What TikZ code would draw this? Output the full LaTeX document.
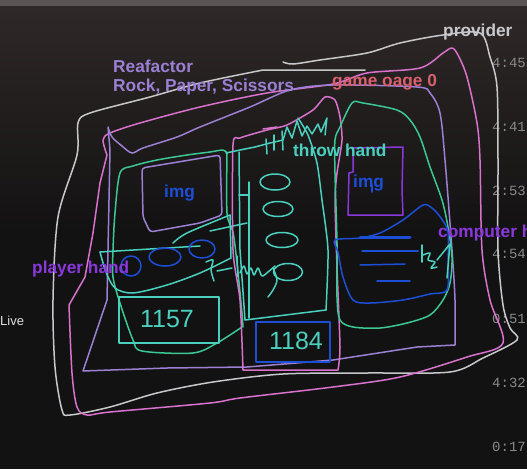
\documentclass[tikz,border=0pt]{standalone}
\usepackage{fontspec}
\newfontfamily\lblfont{Liberation Sans}
\newfontfamily\plainfont{Liberation Sans}
\newfontfamily\stampfont{Liberation Mono}
\definecolor{cStrip}{HTML}{5A5656}
\definecolor{cBgTop}{HTML}{2F2828}
\definecolor{cBgBot}{HTML}{131212}
\definecolor{cGray}{HTML}{C8C8CC}
\definecolor{cPink}{HTML}{D872CC}
\definecolor{cLav}{HTML}{9B80D4}
\definecolor{cGreen}{HTML}{3CC894}
\definecolor{cTeal}{HTML}{4AD0BE}
\definecolor{cBlue}{HTML}{1C4FD6}
\definecolor{cViolet}{HTML}{8A38DC}
\definecolor{cRed}{HTML}{D8606E}
\definecolor{cStamp}{HTML}{8A8A8A}
\tikzset{
  ink/.style={line width=1.5pt, line cap=round, line join=round},
  grayline/.style={ink, draw=cGray},
  pinkline/.style={ink, draw=cPink},
  lavline/.style={ink, draw=cLav},
  greenline/.style={ink, draw=cGreen},
  tealline/.style={ink, draw=cTeal},
  blueline/.style={ink, draw=cBlue},
  violetline/.style={ink, draw=cViolet},
  lbl/.style={font=\lblfont\bfseries\fontsize{17.3}{20}\selectfont, inner sep=0pt, anchor=base west},
  stamp/.style={font=\stampfont\fontsize{14}{16}\selectfont, text=cStamp, inner sep=0pt, anchor=base west},
  handnum/.style={font=\plainfont\fontsize{25}{28}\selectfont, text=cTeal, inner sep=0pt}
}
\begin{document}
\begin{tikzpicture}[x=1pt,y=-1pt]
\useasboundingbox (0,0) rectangle (527,469);
\clip (0,0) rectangle (527,469);
% background
\fill[cBgBot] (0,0) rectangle (527,469);
\shade[top color=cBgTop, bottom color=cBgBot] (0,6) rectangle (527,230);
\fill[cStrip] (0,0) rectangle (527,6);

% timestamps and side text
\node[stamp] (t1) at (492,67) {4:45};
\node[stamp] (t2) at (492,131) {4:41};
\node[stamp] (t3) at (492,195) {2:53};
\node[stamp] (t4) at (492,258) {4:54};
\node[stamp] (t5) at (492,323) {0:51};
\node[stamp] (t6) at (492,387) {4:32};
\node[stamp] (t7) at (492,451) {0:17};
\node[font=\plainfont\fontsize{13}{15}\selectfont, text=white!88!black, inner sep=0pt, anchor=base west] (live) at (0,325) {Live};

% provider outline (gray)
\draw[grayline] plot[smooth,tension=0.5] coordinates {(283,62) (293,64) (320,60) (367,53) (400,43) (443,35) (480,33) (490,57) (497,87) (498,160) (498,250) (503,305) (510,328) (517,340) (483,358) (450,372) (367,373) (283,374) (213,382) (157,393) (110,407) (70,415) (62,410) (55,367) (53,300) (58,217) (77,155) (78,123) (90,113) (150,97) (200,83) (263,70)} -- (365,70);

% game page outline (pink)
\draw[pinkline] plot[smooth,tension=0.5] coordinates {(107,155) (103,140) (110,133) (140,123) (200,107) (267,93) (333,84) (367,73) (420,68) (443,53) (452,48) (458,55) (467,77) (477,123) (480,160) (482,250) (490,300) (503,343) (467,357) (400,377) (333,387) (240,398) (210,403) (110,412) (87,415) (77,407) (72,373) (69,305)} -- (85,277) -- (93,233) -- (100,183) -- (107,155);

% refactor outline (lavender)
\draw[lavline] plot[smooth,tension=0.5] coordinates {(108,127) (112,137) (122,146) (132,153) (143,148) (177,137) (200,127) (250,107) (290,90) (333,85) (417,87) (430,93) (440,113) (445,160) (452,250) (455,300) (455,345)} -- (417,347) -- (333,360) -- (247,367) -- (167,368) -- (83,371) -- (107,300) -- (110,150) -- (108,127);
\draw[lavline, rounded corners=3pt] (142,168) -- (220,155) -- (222,215) -- (200,223) -- (150,232) -- (143,217) -- cycle;

% player area (green)
\draw[greenline] plot[smooth,tension=0.5] coordinates {(227,153) (223,150) (210,152) (187,155) (157,160) (133,166) (120,173) (115,213) (113,250) (113,277) (120,303) (133,340) (142,351) (193,353) (217,343) (242,327)};
\draw[greenline] plot[smooth,tension=0.5] coordinates {(227,153) (227,213) (233,232) (237,263) (242,313) (243,327)};

% player hand card (teal)
\draw[tealline] (100,252) -- (200,246);
\draw[tealline] plot[smooth,tension=0.5] coordinates {(173,243) (187,233) (230,215)};
\draw[tealline] (230,215) -- (231,258);
\draw[tealline] plot[smooth,tension=0.5] coordinates {(231,258) (200,273) (167,285) (133,293) (115,288) (106,272) (100,252)};
\draw[tealline] (210,231) -- (247,223);
\draw[blueline] (131,266) ellipse [x radius=10pt, y radius=10pt];
\draw[blueline] (165,257) ellipse [x radius=16pt, y radius=9pt];
\draw[blueline] (202,249) ellipse [x radius=13pt, y radius=9pt];
\draw[tealline] (119,297) rectangle (219,343);
\node[handnum] (n1) at (167,319) {1157};

% throw hand box (pink + teal)
\draw[pinkline] plot[smooth,tension=0.4] coordinates {(243,370) (240,300) (233,250) (233,145) (240,138) (267,130) (287,125) (313,110) (325,97) (335,100) (340,117) (342,140) (337,173) (335,200) (337,267) (340,347) (338,370)} -- cycle;
\draw[pinkline] (263,129) -- (277,127);
\draw[tealline] plot[smooth,tension=0.4] coordinates {(298,118) (308,135) (317,163) (322,200) (328,250) (326,310)} -- (245,320) -- (240,250) -- (239,152);
\draw[tealline] (249,182) -- (249,318);
\draw[tealline] (239,195) -- (249,195);
\draw[tealline] (226,153) -- (240,150) -- (255,147) -- (270,143) -- (283,140) -- (287,127) -- (292,138) -- (297,121) -- (302,136) -- (307,126) -- (312,134) -- (318,124) -- (321,132) -- (327,118) -- (325,135);
\draw[tealline] (266,139) -- (267,154);
\draw[tealline] (274,135) -- (274,150);
\draw[tealline] (282,131) -- (283,150);
\draw[tealline] (275,182) ellipse [x radius=15pt, y radius=8pt];
\draw[tealline] (278,209) ellipse [x radius=15pt, y radius=7.5pt];
\draw[tealline] (282,240) ellipse [x radius=16pt, y radius=7.5pt];
\draw[tealline] (288,272) ellipse [x radius=14.5pt, y radius=8.5pt];
% drag scribble
\draw[tealline] plot[smooth,tension=0.5] coordinates {(206,262) (213,260) (211,270) (214,281)};
\draw[tealline] (217,271) -- (232,268);
\draw[tealline] (237,256) -- (238,277);
\draw[tealline] plot[smooth,tension=0.5] coordinates {(240,273) (244,266) (247,274) (251,268) (254,275) (258,268) (262,276) (268,272) (275,266)};
\draw[tealline] plot[smooth,tension=0.5] coordinates {(273,268) (277,280) (273,290) (268,297)};
\draw[blueline] (256,322) rectangle (330,362);
\node[handnum] (n2) at (296,341) {1184};

% computer area (green)
\draw[greenline] plot[smooth cycle,tension=0.5] coordinates {(352,103) (363,103) (397,110) (410,120) (420,137) (430,167) (442,200) (448,227) (452,257) (450,283) (443,300) (430,315) (407,323) (380,328) (353,327) (340,320) (337,297) (337,243) (335,173) (335,140) (340,127)};
\draw[violetline] (353,148) -- (403,147) -- (402,190) -- (403,215) -- (348,215) -- (349,173) -- (353,172) -- cycle;
\draw[blueline] plot[smooth cycle,tension=0.5] coordinates {(335,240) (360,238) (380,233) (403,220) (423,205) (432,208) (441,218) (448,232) (448,262) (447,290) (430,294) (403,300) (370,303) (353,300) (343,277) (338,252)};
\draw[blueline, line width=3pt] (360,237) -- (410,237);
\draw[blueline] (362,251) -- (418,251);
\draw[blueline] (360,265) -- (405,264);
\draw[blueline] (377,281) -- (410,281);
\draw[blueline] (372,185) -- (372,192);
\draw[tealline] (422,245) -- (422,262);
\draw[tealline] plot[smooth,tension=0.5] coordinates {(423,255) (430,253) (428,260) (435,262) (431,268) (437,267)};
\draw[tealline] (437,260) -- (450,244) -- (447,278);

% labels
\node[lbl, text=cLav] (title1) at (113,72.5) {Reafactor};
\node[lbl, text=cLav] (title2) at (113,91.5) {Rock, Paper, Scissors};
\node[lbl, text=cRed] (page) at (332,86.5) {game oage 0};
\node[lbl, text=cGray] (prov) at (443,36.5) {provider};
\node[lbl, text=cTeal] (throw) at (293,156.5) {throw hand};
\node[lbl, text=cBlue] (img1) at (164,197) {img};
\node[lbl, text=cBlue] (img2) at (353,187) {img};
\node[lbl, text=cViolet] (player) at (32,273) {player hand};
\node[lbl, text=cViolet] (comp) at (438,237) {computer hand};
\end{tikzpicture}
\end{document}
